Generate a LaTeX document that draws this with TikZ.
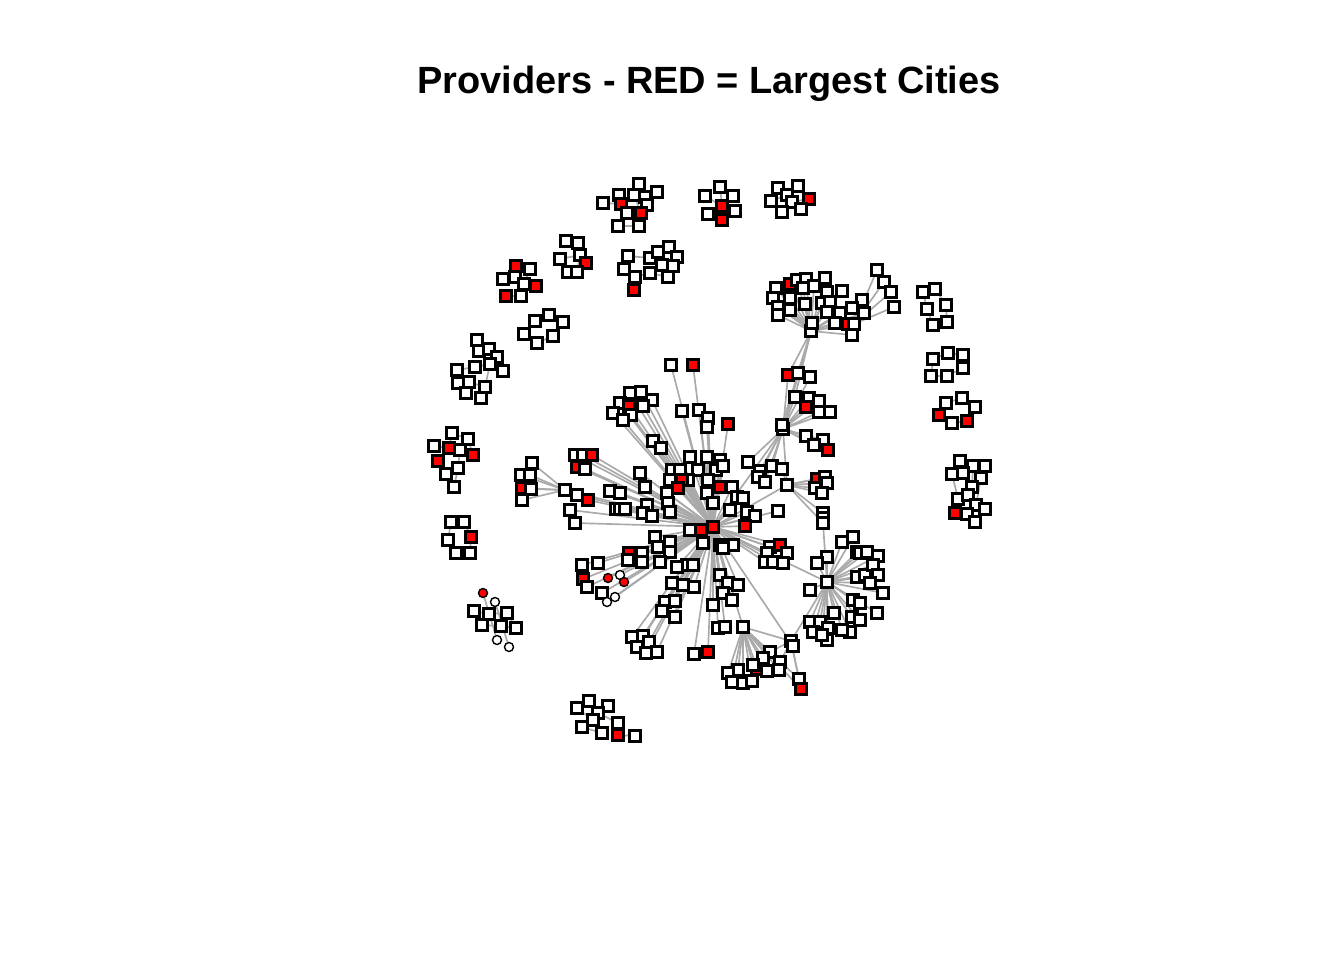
\documentclass[tikz,border=0pt]{standalone}
\usepackage{fontspec}
\setmainfont{Liberation Sans}
\pgfdeclarelayer{bgfill}
\pgfdeclarelayer{background}
\pgfsetlayers{bgfill,background,main}
\definecolor{edgegray}{RGB}{170,170,170}
\definecolor{rd}{RGB}{255,0,0}
\colorlet{wt}{white}
\tikzset{
  sq/.style={rectangle, draw=black, line width=1.3pt, minimum size=0.22cm, inner sep=0pt},
  ci/.style={circle, draw=black, line width=0.8pt, minimum size=0.18cm, inner sep=0pt},
  lnk/.style={draw=edgegray, line width=0.95pt},
  titlefont/.style={font=\fontsize{21.6}{26}\selectfont\bfseries},
}
\newcommand\ngroup[2]{\foreach \p/\q/\s [count=\i] in {#2} {\node[sq, fill=\s] (#1\i) at (\p,\q) {}; \xdef\lastcount{\i}}}
\newcommand\cgroup[2]{\foreach \p/\q/\s [count=\i] in {#2} {\node[ci, fill=\s] (#1\i) at (\p,\q) {}; \xdef\lastcount{\i}}}
\newcommand\spokesto[2]{\begin{pgfonlayer}{background}\foreach \i in {1,...,\lastcount} {\draw[lnk] (#1) -- (#2\i);}\end{pgfonlayer}}
\newcommand\linkpairs[2]{\begin{pgfonlayer}{background}\foreach \a/\b in {#2} {\draw[lnk] (#1\a) -- (#1\b);}\end{pgfonlayer}}
\begin{document}
\begin{tikzpicture}[x=0.02cm, y=-0.02cm]
\useasboundingbox (0,0) rectangle (1344,960);
\begin{pgfonlayer}{bgfill}
\fill[white] (0,0) rectangle (1344,960);
\end{pgfonlayer}
\node[titlefont, anchor=base] (title) at (709,93) {Providers - RED = Largest Cities};

% ---------- isolated clusters ----------
\ngroup{A}{639/184/wt, 657/192/wt, 619/195/wt, 634/195/wt, 645/197/wt, 603/203/wt, 621/204/rd, 647/205/wt, 641/213/rd, 627/213/wt, 618/226/wt, 639/226/wt}
\linkpairs{A}{1/5, 2/5, 3/7, 4/7, 6/7, 5/8, 8/9, 7/10, 10/11, 11/12, 9/12, 4/9}
\ngroup{B}{705/196/wt, 720/187/wt, 733/196/wt, 722/206/rd, 708/214/wt, 735/211/wt, 722/220/rd}
\linkpairs{B}{1/4, 2/4, 3/4, 4/5, 4/6, 4/7}
\ngroup{C}{778/188/wt, 798/186/wt, 771/201/wt, 787/195/wt, 792/202/wt, 809/199/rd, 782/212/wt, 801/209/wt}
\linkpairs{C}{1/4, 2/4, 3/4, 4/5, 5/6, 5/7, 5/8}
\ngroup{D}{566/241/wt, 578/243/wt, 560/259/wt, 580/255/wt, 586/263/rd, 568/272/wt, 577/272/wt}
\linkpairs{D}{1/2, 2/4, 3/4, 4/5, 4/7, 6/7}
\ngroup{E}{628/256/wt, 624/269/wt, 635/277/wt, 634/290/rd, 650/258/wt, 658/252/wt, 669/247/wt, 677/257/wt, 662/265/wt, 673/266/wt, 650/273/wt, 668/277/wt}
\linkpairs{E}{1/5, 2/3, 3/4, 3/11, 5/6, 6/7, 7/8, 8/10, 9/10, 9/11, 11/12, 5/9}
\ngroup{F}{516/266/rd, 530/269/wt, 503/279/wt, 515/277/wt, 524/284/wt, 536/286/rd, 506/296/rd, 521/296/wt}
\linkpairs{F}{1/4, 2/5, 3/4, 4/5, 5/6, 5/8, 7/8}
\ngroup{G}{549/315/wt, 535/321/wt, 563/322/wt, 524/334/wt, 537/343/wt, 553/336/wt}
\linkpairs{G}{1/2, 1/3, 2/4, 4/5, 5/6, 3/6}
\ngroup{H}{477/340/wt, 479/351/wt, 489/349/wt, 497/357/wt, 475/367/wt, 490/364/wt, 457/370/wt, 503/371/wt, 458/383/wt, 469/382/wt, 485/387/wt, 466/393/wt, 481/398/wt}
\linkpairs{H}{1/2, 2/3, 3/4, 2/6, 5/6, 6/8, 5/7, 7/9, 9/10, 10/11, 6/11, 11/13, 10/12}
\ngroup{I}{452/433/wt, 468/439/wt, 434/446/wt, 449/448/rd, 460/450/wt, 473/455/rd, 438/461/rd, 458/468/wt, 446/474/wt, 454/487/wt}
\linkpairs{I}{1/2, 1/4, 3/4, 4/5, 5/6, 4/7, 5/8, 8/9, 8/10, 2/6, 7/9}
\ngroup{J}{451/522/wt, 464/522/wt, 448/540/wt, 471/537/rd, 456/553/wt, 470/553/wt}
\linkpairs{J}{1/2, 1/3, 2/4, 4/6, 5/6, 3/5}
\ngroup{K}{474/611/wt, 489/614/wt, 507/613/wt, 482/625/wt, 501/626/wt, 516/628/wt}
\cgroup{Kc}{483/593/rd, 495/602/wt, 497/640/wt, 509/647/wt}
\linkpairs{K}{1/2, 2/3, 4/5, 5/6, 3/6}
\linkpairs{Kc}{1/3, 2/4}
\ngroup{L}{589/701/wt, 577/708/wt, 608/706/wt, 598/713/wt, 593/720/wt, 582/727/wt, 602/733/wt, 618/723/wt, 618/735/rd, 635/736/wt}
\linkpairs{L}{1/2, 1/4, 3/4, 4/5, 5/6, 5/7, 4/8, 8/9, 9/10, 2/5, 6/7}
\ngroup{M}{923/292/wt, 935/289/wt, 927/309/wt, 946/305/wt, 933/325/wt, 947/322/wt}
\linkpairs{M}{1/3, 2/4, 3/5, 4/6, 1/2}
\ngroup{N}{933/359/wt, 948/353/wt, 963/355/wt, 963/368/wt, 947/376/wt, 931/376/wt}
\linkpairs{N}{1/2, 2/3, 3/4, 4/5, 5/6, 1/6}
\ngroup{O}{946/403/wt, 962/398/wt, 975/407/wt, 939/415/rd, 952/423/wt, 967/421/rd}
\linkpairs{O}{1/2, 2/3, 1/4, 4/5, 5/6}
\ngroup{P}{960/461/wt, 973/466/wt, 985/466/wt, 952/474/wt, 963/473/wt, 981/478/wt, 972/487/wt, 958/499/wt, 968/495/wt, 976/505/wt, 985/509/wt, 955/513/rd, 967/514/wt, 975/522/wt}
\linkpairs{P}{1/5, 5/7, 2/7, 7/9, 9/10, 10/11, 9/12, 12/13, 13/14, 4/8, 8/9, 3/6, 6/10}

% ---------- main component: hubs ----------
\node[sq, fill=wt] (hubT) at (811,331) {};
\node[sq, fill=wt] (hubU) at (783,429) {};
\node[sq, fill=wt] (hubU2) at (782,425) {};
\node[sq, fill=wt] (hubR) at (827,582) {};
\node[sq, fill=wt] (hubB) at (743,627) {};
\node[sq, fill=wt] (lh) at (565,490) {};
\node[sq, fill=wt] (mid) at (787,485) {};
\node[sq, fill=wt] (bn) at (791,641) {};
\node[sq, fill=wt] (bn2) at (793,646) {};
\node[sq, fill=wt] (st1) at (823,513) {};
\node[sq, fill=wt] (st2) at (823,518) {};
\node[sq, fill=wt] (st3) at (823,523) {};
\node[sq, fill=rd] (hub0) at (713,527) {};

\begin{pgfonlayer}{background}
\draw[lnk] (hubT) -- (hubU);
\draw[lnk] (hubT) -- (hubU2);
\draw[lnk] (hubU) -- (hub0);
\draw[lnk] (hubU) -- (mid);
\draw[lnk] (mid) -- (hub0);
\draw[lnk] (mid) -- (st1);
\draw[lnk] (mid) -- (st3);
\draw[lnk] (st3) -- (hubR);
\draw[lnk] (hubR) -- (hub0);
\draw[lnk] (hubB) -- (hub0);
\draw[lnk] (lh) -- (hub0);
\draw[lnk] (bn) -- (hubR);
\draw[lnk] (bn) -- (hubB);
\draw[lnk] (bn2) -- (hub0);
\end{pgfonlayer}

\ngroup{T}{776/288/wt, 790/284/rd, 797/280/wt, 806/279/wt, 803/288/wt, 814/286/wt, 825/278/wt, 773/298/wt, 778/307/wt, 778/315/wt, 790/298/wt, 790/310/wt, 805/304/wt, 827/292/wt, 842/291/wt, 822/303/wt, 830/302/wt, 827/312/wt, 840/313/wt, 835/323/wt, 848/324/rd, 854/324/wt, 852/335/wt, 862/300/wt, 864/313/wt, 852/308/wt, 812/323/wt}
\spokesto{hubT}{T}
\ngroup{Q}{877/270/wt, 884/282/wt, 891/292/wt, 894/307/wt}
\spokesto{T22}{Q}
\ngroup{U}{788/375/rd, 798/373/wt, 810/377/wt, 795/397/wt, 809/398/wt, 806/407/rd, 819/401/wt, 819/412/wt, 830/412/wt}
\spokesto{hubU}{U}
\begin{pgfonlayer}{background}
\draw[lnk] (hubT) -- (U1); \draw[lnk] (hubT) -- (U2); \draw[lnk] (hubT) -- (U4);
\end{pgfonlayer}
\ngroup{V}{806/436/wt, 823/440/wt, 814/445/wt, 828/450/rd, 748/462/wt, 772/466/wt, 760/471/wt, 758/477/wt, 765/482/wt}
\spokesto{hubU}{V}
\ngroup{X}{817/479/rd, 825/477/wt, 827/483/wt, 815/488/wt, 822/493/wt, 782/469/wt}
\spokesto{mid}{X}

\ngroup{Z}{671/365/wt, 693/365/rd,
630/393/wt, 641/392/wt, 652/400/wt, 620/403/wt, 629/406/rd, 643/406/wt, 613/413/wt, 631/415/wt, 623/420/wt,
682/411/wt, 699/410/wt, 708/418/wt, 707/427/wt, 728/424/rd, 653/441/wt, 661/448/wt,
690/457/wt, 707/457/wt, 720/460/wt, 698/470/wt, 716/470/wt, 723/466/wt, 708/480/wt,
640/473/wt, 645/487/wt, 672/470/wt, 680/470/wt, 670/480/wt, 688/480/wt, 682/480/rd, 678/488/rd,
707/493/wt, 713/503/wt, 720/487/rd, 732/487/wt, 737/497/wt, 743/498/wt, 730/510/wt, 747/512/wt, 755/516/wt, 745/526/rd, 778/511/wt,
575/455/wt, 583/455/wt, 592/455/rd, 577/467/rd, 585/469/wt,
577/495/wt, 588/500/rd, 570/510/wt, 575/523/wt,
610/491/wt, 620/493/wt, 616/509/wt, 620/509/wt, 625/509/wt, 647/505/wt, 643/513/wt, 652/516/wt, 667/493/wt, 668/503/wt, 670/512/wt,
690/530/wt, 701/530/rd, 703/543/wt, 720/545/wt, 733/545/wt, 723/548/wt,
655/537/wt, 670/542/wt, 658/547/wt, 670/552/wt, 629/553/rd, 642/553/wt, 628/560/wt, 642/562/wt, 582/565/wt, 598/563/wt, 660/562/wt, 687/565/wt, 693/565/wt, 677/567/wt,
583/579/rd, 587/587/wt, 602/593/wt,
672/583/wt, 683/585/wt, 694/587/wt, 665/602/wt, 675/601/wt, 662/611/wt, 675/617/wt,
632/637/wt, 643/636/wt, 637/647/wt, 649/642/wt, 646/653/wt, 657/652/wt,
694/654/wt, 708/652/rd, 713/605/wt, 718/628/wt, 720/575/wt, 728/583/wt, 738/585/wt, 723/593/wt, 732/600/wt, 725/627/wt,
770/547/wt, 767/553/wt, 780/545/rd, 787/553/wt, 765/562/wt, 773/562/wt, 783/563/wt}
\spokesto{hub0}{Z}
\cgroup{Zc}{620/575/wt, 608/578/rd, 624/582/rd, 615/597/wt, 607/602/wt}
\spokesto{hub0}{Zc}
\ngroup{W}{532/463/wt, 521/475/wt, 530/475/wt, 522/488/rd, 531/489/wt, 522/500/wt}
\spokesto{lh}{W}

\ngroup{R}{853/537/wt, 842/542/wt, 857/552/wt, 860/553/wt, 867/552/wt, 878/556/wt, 827/557/wt, 817/563/wt, 810/590/wt, 857/577/wt, 865/575/wt, 873/565/wt, 878/575/wt, 883/593/wt, 877/613/wt, 870/583/wt, 853/600/wt, 860/603/wt, 852/617/wt, 860/620/wt, 834/613/wt, 810/622/wt, 820/622/wt, 828/628/wt, 813/632/wt, 827/640/wt, 850/632/wt, 842/630/wt, 822/635/wt}
\spokesto{hubR}{R}

\ngroup{Y}{770/652/wt, 763/658/wt, 780/662/wt, 757/669/rd, 767/671/wt, 779/670/wt, 753/665/wt, 738/670/wt, 728/673/wt, 732/682/wt, 743/683/wt, 752/681/wt, 799/679/wt, 801/689/rd}
\spokesto{hubB}{Y}
\begin{pgfonlayer}{background}
\draw[lnk] (bn) -- (Y1); \draw[lnk] (bn) -- (Y3); \draw[lnk] (bn) -- (Y13); \draw[lnk] (bn) -- (Y14);
\end{pgfonlayer}
\end{tikzpicture}
\end{document}
